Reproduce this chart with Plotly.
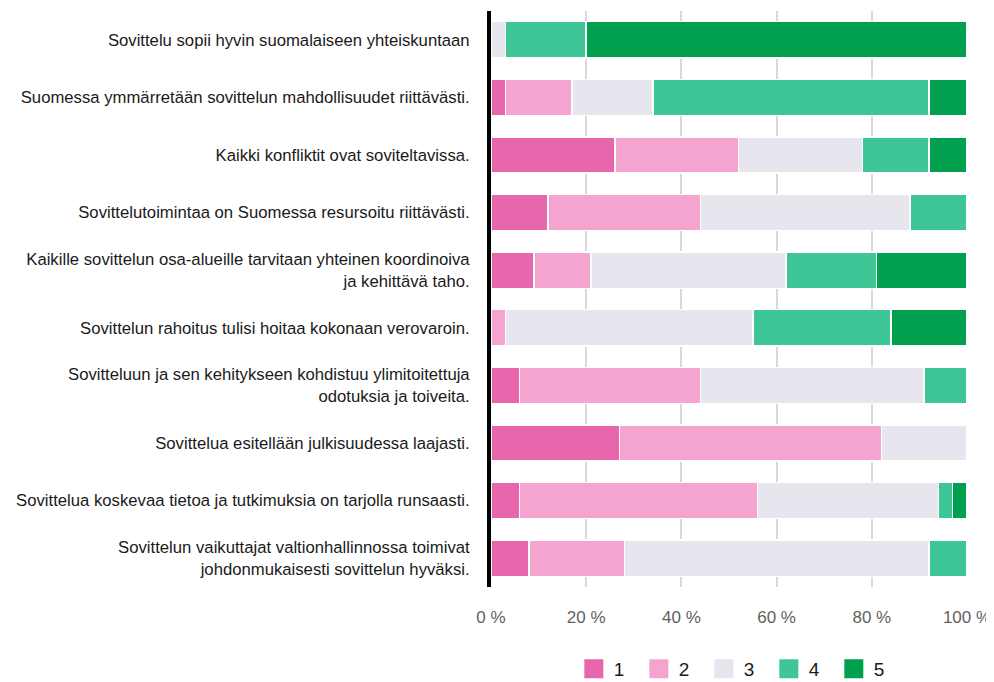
import plotly.graph_objects as go

categories = [
    "Sovittelu sopii hyvin suomalaiseen yhteiskuntaan",
    "Suomessa ymmärretään sovittelun mahdollisuudet riittävästi.",
    "Kaikki konfliktit ovat soviteltavissa.",
    "Sovittelutoimintaa on Suomessa resursoitu riittävästi.",
    "Kaikille sovittelun osa-alueille tarvitaan yhteinen koordinoiva<br>ja kehittävä taho.",
    "Sovittelun rahoitus tulisi hoitaa kokonaan verovaroin.",
    "Sovitteluun ja sen kehitykseen kohdistuu ylimitoitettuja<br>odotuksia ja toiveita.",
    "Sovittelua esitellään julkisuudessa laajasti.",
    "Sovittelua koskevaa tietoa ja tutkimuksia on tarjolla runsaasti.",
    "Sovittelun vaikuttajat valtionhallinnossa toimivat<br>johdonmukaisesti sovittelun hyväksi.",
]

s1 = [0, 3, 26, 12, 9, 0, 6, 27, 6, 8]
s2 = [0, 14, 26, 32, 12, 3, 38, 55, 50, 20]
s3 = [3, 17, 26, 44, 41, 52, 47, 18, 38, 64]
s4 = [17, 58, 14, 12, 19, 29, 9, 0, 3, 8]
s5 = [80, 8, 8, 0, 19, 16, 0, 0, 3, 0]

series_names = ["1", "2", "3", "4", "5"]
series_values = [s1, s2, s3, s4, s5]
colors = ["#e766ac", "#f4a4cf", "#e7e5ed", "#3ec697", "#00a04f"]

tick_vals = [0, 20, 40, 60, 80, 100]
tick_text = ["0 %", "20 %", "40 %", "60 %", "80 %", "100 %"]

FONT = "Liberation Sans, Arial, sans-serif"

fig = go.Figure()
for name, vals, col in zip(series_names, series_values, colors):
    fig.add_trace(go.Bar(
        y=categories, x=vals, name=name, orientation="h",
        marker=dict(color=col, line=dict(color="white", width=1.5)),
        width=0.63, showlegend=False,
    ))
for name, col in zip(series_names, colors):
    fig.add_trace(go.Scatter(
        x=[None], y=[None], mode="markers", name=name,
        marker=dict(symbol="square", size=16, color=col, line=dict(color=col, width=3)),
        showlegend=True,
    ))

fig.update_layout(
    barmode="stack",
    width=986, height=674,
    margin=dict(l=483, r=27, t=3, b=95, autoexpand=False),
    plot_bgcolor="white", paper_bgcolor="white",
    font=dict(family=FONT, size=17, color="#1a1a1a"),
    legend=dict(
        orientation="h", x=0.174, xanchor="left", y=-0.142, yanchor="middle",
        font=dict(size=19, color="#1a1a1a"),
        entrywidth=20, entrywidthmode="pixels",
        itemsizing="trace", traceorder="normal",
    ),
)
fig.update_xaxes(
    range=[0, 100], tickvals=tick_vals, ticktext=tick_text,
    showgrid=True, gridcolor="#d9d9d9", gridwidth=2,
    zeroline=False, showline=False, ticks="",
    tickfont=dict(size=17, color="#5f5f5f"),
    ticklabelstandoff=18, fixedrange=True,
)
fig.update_yaxes(
    categoryorder="array", categoryarray=categories, autorange="reversed",
    showline=True, linecolor="black", linewidth=4,
    showgrid=False, ticks="", ticklabelstandoff=14,
    tickfont=dict(size=16.7, color="#1a1a1a"),
    automargin=False, fixedrange=True,
)

fig.write_html("out.html")
